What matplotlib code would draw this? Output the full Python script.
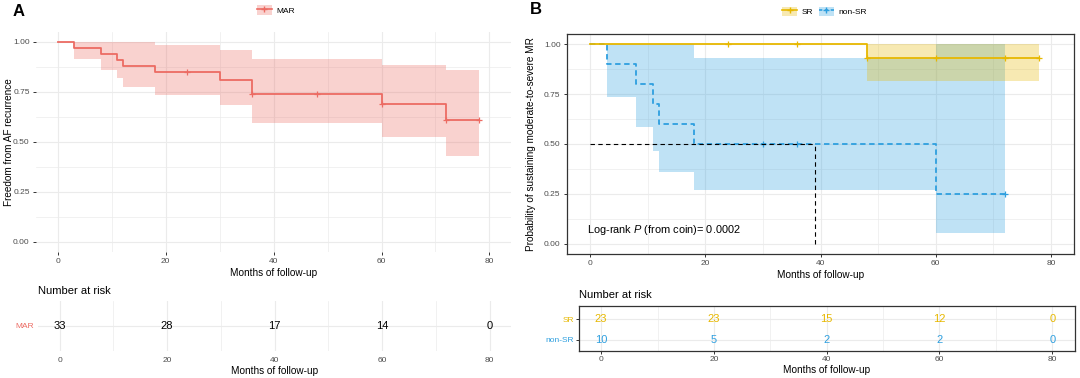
import numpy as np
import matplotlib
matplotlib.use("Agg")
import matplotlib.pyplot as plt
from matplotlib.patches import Patch
from matplotlib.lines import Line2D
from matplotlib.ticker import MultipleLocator

plt.rcParams['font.family'] = ['Liberation Sans', 'DejaVu Sans']
plt.rcParams['mathtext.fontset'] = 'custom'
plt.rcParams['mathtext.rm'] = 'Liberation Sans'
plt.rcParams['mathtext.it'] = 'Liberation Sans:italic'

#%% data
# panel A : MAR
mar_time = [0, 3, 8, 11, 12, 18, 30, 36, 60, 72, 78]
mar_surv = [1.0, 0.970, 0.939, 0.909, 0.879, 0.848, 0.811, 0.738, 0.687, 0.608, 0.608]
mar_upper = [1.0, 1.0, 1.0, 1.0, 1.0, 0.983, 0.961, 0.916, 0.887, 0.860, 0.860]
mar_lower = [1.0, 0.916, 0.862, 0.820, 0.773, 0.736, 0.685, 0.596, 0.524, 0.428, 0.428]
mar_cens_t = [24, 36, 48, 60, 72, 78]
mar_cens_s = [0.848, 0.738, 0.738, 0.687, 0.608, 0.608]

# panel B : SR / non-SR
sr_time = [0, 48, 78]
sr_surv = [1.0, 0.933, 0.933]
sr_upper = [1.0, 1.0, 1.0]
sr_lower = [1.0, 0.815, 0.815]
sr_cens_t = [24, 36, 48, 60, 72, 78]
sr_cens_s = [1.0, 1.0, 0.933, 0.933, 0.933, 0.933]

nsr_time = [0, 3, 8, 11, 12, 18, 60, 72]
nsr_surv = [1.0, 0.9, 0.8, 0.7, 0.6, 0.5, 0.25, 0.25]
nsr_upper = [1.0, 1.0, 1.0, 1.0, 1.0, 0.929, 1.0, 1.0]
nsr_lower = [1.0, 0.733, 0.586, 0.465, 0.360, 0.267, 0.054, 0.054]
nsr_cens_t = [30, 36, 72]
nsr_cens_s = [0.5, 0.5, 0.25]

median_x = 39
median_y = 0.5
pval_text = 'Log-rank $P$ (from coin)= 0.0002'

# number at risk
risk_times = [0, 20, 40, 60, 80]
mar_risk = [33, 28, 17, 14, 0]
sr_risk = [23, 23, 15, 12, 0]
nsr_risk = [10, 5, 2, 2, 0]

c_mar = '#EC6B63'
c_sr = '#E7B800'
c_nsr = '#2E9FDF'
grid_c = '#EBEBEB'
tick_c = '#4D4D4D'

W, H = 1080, 378
fig = plt.figure(figsize=(W / 100, H / 100), dpi=100)

def box(l, t, r, b):
    return [l / W, 1 - b / H, (r - l) / W, (b - t) / H]

axA = fig.add_axes(box(36.2, 32, 511, 251.5))
axB = fig.add_axes(box(567, 34.3, 1074, 253.5))
tA = fig.add_axes(box(38, 301, 511.2, 351))
tB = fig.add_axes(box(578.6, 305.5, 1074.8, 350.9))

def km(ax, t, s, lo, hi, ct, cs, color, ls):
    ax.fill_between(t, lo, hi, step='post', color=color, alpha=0.3, lw=0)
    ax.step(t, s, where='post', color=color, lw=1.3, ls=ls)
    ax.plot(ct, cs, ls='none', marker='+', color=color, ms=5, mew=0.9)

def style_main(ax, frame):
    ax.set_xlim(-4, 84)
    ax.set_ylim(-0.05, 1.05)
    ax.set_xticks([0, 20, 40, 60, 80])
    ax.set_yticks([0, 0.25, 0.5, 0.75, 1.0])
    ax.set_yticklabels(['0.00', '0.25', '0.50', '0.75', '1.00'])
    ax.xaxis.set_minor_locator(MultipleLocator(10))
    ax.yaxis.set_minor_locator(MultipleLocator(0.125))
    ax.grid(which='major', color=grid_c, lw=0.8)
    ax.grid(which='minor', color=grid_c, lw=0.5)
    ax.set_axisbelow(True)
    ax.tick_params(which='minor', length=0)
    ax.tick_params(which='major', length=2.2, width=0.7, color='#333333',
                   labelsize=6, labelcolor=tick_c, pad=2.5)
    for sp in ax.spines.values():
        sp.set_visible(frame)
        sp.set_color('#333333')
        sp.set_linewidth(0.9)
    ax.set_xlabel('Months of follow-up', fontsize=7.2, labelpad=2)

#%% panel A
km(axA, mar_time, mar_surv, mar_lower, mar_upper, mar_cens_t, mar_cens_s, c_mar, '-')
style_main(axA, False)
axA.set_ylabel('Freedom from AF recurrence', fontsize=7.2)
axA.yaxis.set_label_coords(-0.047, 0.5)

#%% panel B
km(axB, nsr_time, nsr_surv, nsr_lower, nsr_upper, nsr_cens_t, nsr_cens_s, c_nsr, (0, (3, 2)))
km(axB, sr_time, sr_surv, sr_lower, sr_upper, sr_cens_t, sr_cens_s, c_sr, '-')
axB.plot([0, median_x], [median_y, median_y], color='black', lw=0.8, ls=(0, (4, 3)))
axB.plot([median_x, median_x], [0, median_y], color='black', lw=0.8, ls=(0, (4, 3)))
axB.text(-0.5, 0.07, pval_text, fontsize=7.9, va='center', ha='left')
style_main(axB, True)
axB.set_ylabel('Probability of sustaining moderate-to-severe MR', fontsize=7.2)
axB.yaxis.set_label_coords(-0.062, 0.5)

#%% legends
hA = [(Patch(facecolor=c_mar, alpha=0.3, lw=0),
       Line2D([], [], color=c_mar, lw=1.2, marker='+', ms=5))]
fig.legend(hA, ['MAR'], loc='center', bbox_to_anchor=(276 / W, 1 - 10.3 / H),
           frameon=False, fontsize=6, handlelength=1.8, handleheight=1.45,
           handletextpad=0.6, numpoints=1)
hB = [(Patch(facecolor=c_sr, alpha=0.3, lw=0),
       Line2D([], [], color=c_sr, lw=1.2, marker='+', ms=5)),
      (Patch(facecolor=c_nsr, alpha=0.3, lw=0),
       Line2D([], [], color=c_nsr, lw=1.2, ls=(0, (2, 1.5)), marker='+', ms=5))]
fig.legend(hB, ['SR', 'non-SR'], loc='center', bbox_to_anchor=(824.5 / W, 1 - 11.5 / H),
           ncol=2, frameon=False, fontsize=6, handlelength=1.8, handleheight=1.45,
           handletextpad=0.6, columnspacing=0.6, numpoints=1)

fig.text(13 / W, 1 - 11 / H, 'A', fontsize=12, fontweight='bold', va='center', ha='left')
fig.text(530 / W, 1 - 9 / H, 'B', fontsize=12, fontweight='bold', va='center', ha='left')

#%% risk tables
def style_table(ax, frame):
    ax.set_xlim(-4, 84)
    ax.set_xticks([0, 20, 40, 60, 80])
    ax.xaxis.set_minor_locator(MultipleLocator(10))
    ax.grid(which='major', color=grid_c, lw=0.8)
    ax.grid(which='minor', axis='x', color=grid_c, lw=0.5)
    ax.set_axisbelow(True)
    ax.tick_params(which='minor', length=0)
    for sp in ax.spines.values():
        sp.set_visible(frame)
        sp.set_color('#333333')
        sp.set_linewidth(0.9)
    ax.set_xlabel('Months of follow-up', fontsize=7.2, labelpad=1.5)

style_table(tA, False)
tA.set_ylim(0.5, 1.5)
tA.set_yticks([1])
tA.set_yticklabels(['MAR'])
tA.tick_params(axis='y', length=0, labelsize=6, pad=3)
tA.tick_params(axis='x', length=0, labelsize=6, labelcolor=tick_c, pad=4)
tA.get_yticklabels()[0].set_color(c_mar)
for x, n in zip(risk_times, mar_risk):
    tA.text(x, 1, str(n), fontsize=8, ha='center', va='center')
tA.text(0, 1.19, 'Number at risk', fontsize=8, ha='left', va='center', transform=tA.transAxes)

style_table(tB, True)
tB.set_ylim(0.47, 2.66)
tB.set_yticks([1, 2])
tB.set_yticklabels(['non-SR', 'SR'])
tB.tick_params(axis='y', length=2, width=0.7, color='#333333', labelsize=6, pad=1.5)
tB.tick_params(axis='x', length=2, width=0.7, color='#333333', labelsize=6,
               labelcolor=tick_c, pad=1.5)
tB.get_yticklabels()[0].set_color(c_nsr)
tB.get_yticklabels()[1].set_color(c_sr)
for x, n in zip(risk_times, sr_risk):
    tB.text(x, 2, str(n), fontsize=8, ha='center', va='center', color=c_sr)
for x, n in zip(risk_times, nsr_risk):
    tB.text(x, 1, str(n), fontsize=8, ha='center', va='center', color=c_nsr)
tB.text(0, 1.236, 'Number at risk', fontsize=8, ha='left', va='center', transform=tB.transAxes)

fig.savefig('out.png', dpi=100)
